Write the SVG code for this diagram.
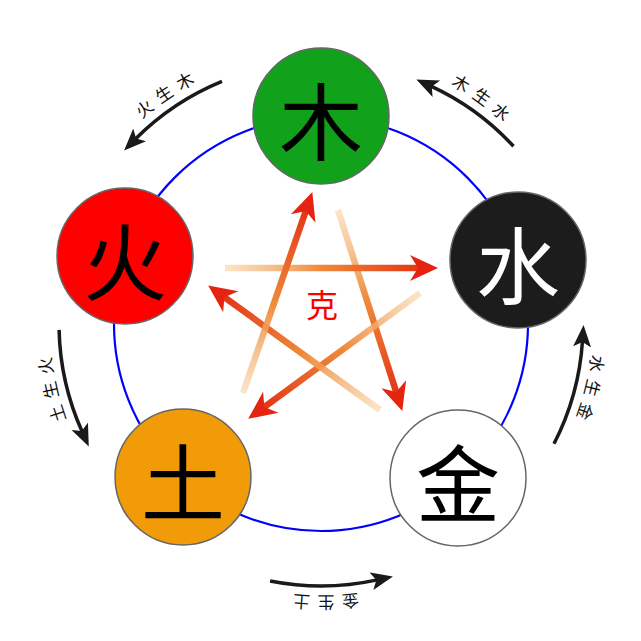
<svg xmlns="http://www.w3.org/2000/svg" width="641" height="641" viewBox="0 0 641 641">
<style>
.node{stroke:#666;stroke-width:1.5}
.big{font-family:"Noto Sans CJK SC","Noto Sans CJK TC",sans-serif;font-size:84px;text-anchor:middle;dominant-baseline:central}
.lbl{font-family:"Noto Sans CJK SC",sans-serif;font-size:17px;fill:#111;letter-spacing:7px}
.gen{fill:none;stroke:#1a1a1a;stroke-width:3.5}
.ke{fill:none;stroke-width:6.5}
</style>
<defs>
<marker id="bh" markerUnits="userSpaceOnUse" markerWidth="26" markerHeight="20" refX="6" refY="9" orient="auto">
<path d="M0,0 L22,9 L0,18 L5,9 Z" fill="#1a1a1a"/>
</marker>
<marker id="rh" markerUnits="userSpaceOnUse" markerWidth="34" markerHeight="30" refX="14" refY="13" orient="auto">
<path d="M2,0 L30,13 L2,26 L10,13 Z" fill="#e42410"/>
</marker>
<linearGradient id="g1" gradientUnits="userSpaceOnUse" x1="338" y1="210" x2="402" y2="410"><stop offset="0" stop-color="#f7d3a4" stop-opacity="0.6"/><stop offset="0.45" stop-color="#ef8a3a"/><stop offset="1" stop-color="#e2260f"/></linearGradient>
<linearGradient id="g2" gradientUnits="userSpaceOnUse" x1="225" y1="268" x2="437" y2="268"><stop offset="0" stop-color="#f7d3a4" stop-opacity="0.6"/><stop offset="0.45" stop-color="#ef8a3a"/><stop offset="1" stop-color="#e2260f"/></linearGradient>
<linearGradient id="g3" gradientUnits="userSpaceOnUse" x1="420" y1="293" x2="249" y2="418"><stop offset="0" stop-color="#f7d3a4" stop-opacity="0.6"/><stop offset="0.45" stop-color="#ef8a3a"/><stop offset="1" stop-color="#e2260f"/></linearGradient>
<linearGradient id="g4" gradientUnits="userSpaceOnUse" x1="380" y1="410" x2="209" y2="286"><stop offset="0" stop-color="#f7d3a4" stop-opacity="0.6"/><stop offset="0.45" stop-color="#ef8a3a"/><stop offset="1" stop-color="#e2260f"/></linearGradient>
<linearGradient id="g5" gradientUnits="userSpaceOnUse" x1="243" y1="393" x2="312" y2="193"><stop offset="0" stop-color="#f7d3a4" stop-opacity="0.6"/><stop offset="0.45" stop-color="#ef8a3a"/><stop offset="1" stop-color="#e2260f"/></linearGradient>
<path id="t1" d="M77.4,203.1 A272,272 0 0 1 303.9,52.5"/>
<path id="t2" d="M349.4,53.5 A272,272 0 0 1 569.5,213.4"/>
<path id="t3" d="M122.1,509.5 A272,272 0 0 1 60.9,244.5"/>
<path id="t4" d="M582.5,249 A272,272 0 0 1 516.7,513"/>
<path id="t5" d="M458.2,558.8 A272,272 0 0 1 186.2,560.3"/>
</defs>
<rect width="641" height="641" fill="#fff"/>
<circle cx="321" cy="324" r="207" fill="none" stroke="#0000ff" stroke-width="2.2"/>
<g id="connectors">
<path class="gen" d="M222,81.4 A262,262 0 0 0 135.4,139.1" marker-end="url(#bh)"/>
<path class="gen" d="M513.5,146.3 A262,262 0 0 0 430.9,86.2" marker-end="url(#bh)"/>
<path class="gen" d="M59.1,329.9 A262,262 0 0 0 82.2,431.8" marker-end="url(#bh)"/>
<path class="gen" d="M554,443.8 A262,262 0 0 0 582.5,340.9" marker-end="url(#bh)"/>
<path class="gen" d="M270.1,581 A262,262 0 0 0 377.3,579.9" marker-end="url(#bh)"/>
<text class="lbl"><textPath href="#t1" startOffset="50%" text-anchor="middle">火生木</textPath></text>
<text class="lbl"><textPath href="#t2" startOffset="50%" text-anchor="middle">木生水</textPath></text>
<text class="lbl"><textPath href="#t3" startOffset="50%" text-anchor="middle">土生火</textPath></text>
<text class="lbl"><textPath href="#t4" startOffset="50%" text-anchor="middle">水生金</textPath></text>
<text class="lbl"><textPath href="#t5" startOffset="50%" text-anchor="middle">金生土</textPath></text>
<line class="ke" x1="338" y1="210" x2="397.4" y2="395.7" stroke="url(#g1)" marker-end="url(#rh)"/>
<line class="ke" x1="225" y1="268" x2="422" y2="268" stroke="url(#g2)" marker-end="url(#rh)"/>
<line class="ke" x1="420" y1="293" x2="261.1" y2="409.4" stroke="url(#g3)" marker-end="url(#rh)"/>
<line class="ke" x1="380" y1="410" x2="221.1" y2="294.8" stroke="url(#g4)" marker-end="url(#rh)"/>
<line class="ke" x1="243" y1="393" x2="307.1" y2="207.2" stroke="url(#g5)" marker-end="url(#rh)"/>
<text x="322" y="303" font-family="Noto Sans CJK SC, sans-serif" font-size="32" fill="#ff0000" text-anchor="middle" dominant-baseline="central">克</text>
</g>
<g id="wood"><circle class="node" cx="321" cy="116" r="68" fill="#12a11b"/><text class="big" x="321" y="117" fill="#000">木</text></g>
<g id="fire"><circle class="node" cx="125" cy="256" r="68" fill="#ff0000"/><text class="big" x="125" y="257" fill="#000">火</text></g>
<g id="water"><circle class="node" cx="518" cy="260" r="68" fill="#1c1c1c"/><text class="big" x="518" y="261" fill="#fff">水</text></g>
<g id="earth"><circle class="node" cx="183" cy="477" r="68" fill="#f29b08"/><text class="big" x="183" y="478" fill="#000">土</text></g>
<g id="metal"><circle class="node" cx="458" cy="478" r="68" fill="#fff"/><text class="big" x="458" y="479" fill="#000">金</text></g>
</svg>
